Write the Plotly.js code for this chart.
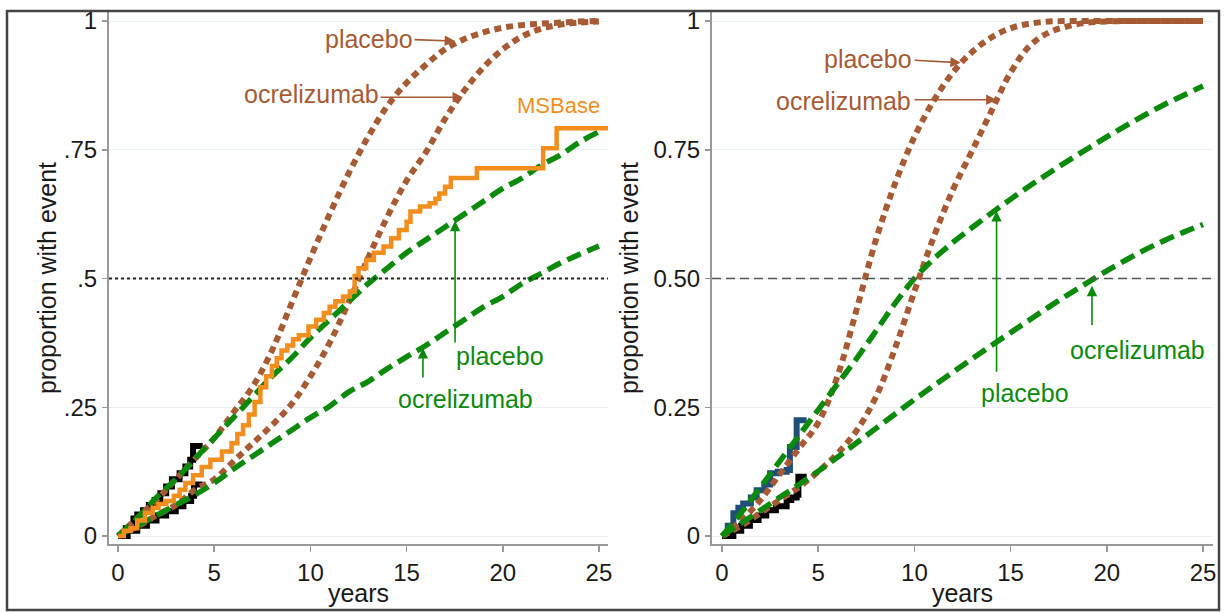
<!DOCTYPE html>
<html>
<head>
<meta charset="utf-8">
<script src="https://cdn.plot.ly/plotly-3.0.1.min.js"></script>
<style>html,body{margin:0;padding:0;background:#fff;}#chart{width:1225px;height:613px;}</style>
</head>
<body>
<div id="chart"></div>
<script>
// ---------- data ----------
const years = [0,1,2,3,4,5,6,7,8,9,10,11,12,13,14,15,16,17,18,19,20,21,22,23,24,25];

// left panel (MSBase comparison)
const leftBrownPlacebo = [0,0.035,0.07,0.11,0.15,0.19,0.24,0.29,0.36,0.45,0.54,0.625,0.705,0.775,0.835,0.88,0.915,0.945,0.965,0.978,0.987,0.992,0.995,0.997,0.999,1.0];
const leftBrownOcrelizumab = [0,0.018,0.04,0.06,0.09,0.11,0.145,0.18,0.215,0.255,0.31,0.375,0.455,0.54,0.62,0.69,0.745,0.81,0.865,0.91,0.945,0.97,0.985,0.993,0.997,0.999];
const leftGreenPlacebo = [0,0.035,0.075,0.11,0.15,0.19,0.23,0.27,0.31,0.345,0.385,0.42,0.455,0.49,0.52,0.55,0.575,0.60,0.625,0.65,0.675,0.695,0.72,0.74,0.765,0.785];
const leftGreenOcrelizumab = [0,0.02,0.04,0.06,0.08,0.103,0.13,0.155,0.18,0.205,0.23,0.252,0.28,0.30,0.325,0.348,0.37,0.395,0.42,0.445,0.465,0.49,0.51,0.53,0.547,0.563];

const msbaseYears = [0,0.3,0.65,1.0,1.4,1.8,2.1,2.5,2.9,3.2,3.5,3.9,4.35,4.8,5.4,5.9,6.2,6.5,6.8,7.1,7.4,7.7,8.0,8.25,8.5,8.8,9.1,9.4,9.9,10.3,10.7,11.0,11.3,11.7,12.05,12.3,12.5,12.9,13.3,13.8,14.2,14.6,15.0,15.2,15.7,16.2,16.5,16.7,17.0,17.3,18.65,22.1,22.8,25.6];
const msbaseValues = [0,0.01,0.015,0.03,0.045,0.055,0.062,0.068,0.078,0.09,0.103,0.118,0.134,0.148,0.164,0.18,0.198,0.215,0.236,0.26,0.289,0.31,0.33,0.345,0.36,0.37,0.382,0.39,0.407,0.42,0.433,0.445,0.456,0.465,0.475,0.505,0.52,0.536,0.55,0.562,0.578,0.594,0.61,0.63,0.64,0.646,0.655,0.665,0.678,0.695,0.714,0.753,0.792,0.792];

const leftKmPlaceboYears = [0,0.4,0.8,1.0,1.3,1.6,1.9,2.2,2.5,2.8,3.2,3.5,3.75,3.9,4.4];
const leftKmPlaceboValues = [0,0.015,0.034,0.042,0.05,0.06,0.07,0.083,0.096,0.11,0.122,0.135,0.148,0.175,0.175];
const leftKmOcrYears = [0,0.5,1.0,1.5,2.0,2.5,3.0,3.4,3.8,3.95,4.4];
const leftKmOcrValues = [0,0.01,0.02,0.03,0.04,0.048,0.058,0.068,0.078,0.1,0.1];

// right panel
const rightBrownPlacebo = [0,0.03,0.07,0.12,0.17,0.22,0.31,0.44,0.575,0.685,0.775,0.845,0.9,0.94,0.968,0.986,0.995,0.999,1,1,1,1,1,1,1,1];
const rightBrownOcrelizumab = [0,0.02,0.045,0.07,0.095,0.125,0.16,0.205,0.27,0.365,0.475,0.58,0.672,0.748,0.825,0.9,0.952,0.978,0.99,0.997,0.999,1,1,1,1,1];
const rightGreenPlacebo = [0,0.045,0.095,0.145,0.195,0.245,0.295,0.345,0.398,0.452,0.50,0.538,0.57,0.599,0.627,0.654,0.68,0.705,0.729,0.752,0.775,0.797,0.818,0.838,0.856,0.874];
const rightGreenOcrelizumab = [0,0.025,0.05,0.075,0.10,0.126,0.153,0.181,0.209,0.237,0.265,0.292,0.318,0.344,0.37,0.395,0.42,0.445,0.469,0.492,0.515,0.536,0.556,0.574,0.59,0.605];

const rightKmPlaceboYears = [0,0.3,0.59,0.85,1.1,1.5,1.8,2.2,2.5,2.9,3.36,3.53,3.88,4.4];
const rightKmPlaceboValues = [0,0.02,0.044,0.055,0.063,0.075,0.089,0.1,0.122,0.125,0.128,0.173,0.225,0.225];
const rightKmOcrYears = [0,0.59,1.0,1.45,1.9,2.3,2.8,3.36,3.6,3.88,3.97,4.4];
const rightKmOcrValues = [0,0.01,0.02,0.031,0.04,0.05,0.058,0.07,0.075,0.08,0.115,0.115];

const xTicks = [0,5,10,15,20,25];
const yTicks = [0,0.25,0.5,0.75,1];
const leftYTickText = ['0','.25','.5','.75','1'];
const rightYTickText = ['0','0.25','0.50','0.75','1'];

// ---------- styles ----------
const BROWN = '#a65b34', GREEN = '#0c8a0c', ORANGE = '#f28e1e', NAVY = '#1f4e79';
const brownLine = {color: BROWN, width: 6, dash: '7px,5px', shape: 'spline', smoothing: 1};
const greenLine = {color: GREEN, width: 5.5, dash: '15px,7px', shape: 'spline', smoothing: 1};

function tr(x, y, line, xa, ya, name) {
  return {x: x, y: y, mode: 'lines', line: line, xaxis: xa, yaxis: ya, name: name, hoverinfo: 'skip'};
}

const traces = [
  tr(leftKmPlaceboYears, leftKmPlaceboValues, {color: '#000', width: 6, shape: 'hv'}, 'x', 'y', 'KM placebo'),
  tr(leftKmOcrYears, leftKmOcrValues, {color: '#000', width: 6, shape: 'hv'}, 'x', 'y', 'KM ocrelizumab'),
  tr(years, leftBrownPlacebo, brownLine, 'x', 'y', 'placebo'),
  tr(years, leftBrownOcrelizumab, brownLine, 'x', 'y', 'ocrelizumab'),
  tr(years, leftGreenPlacebo, greenLine, 'x', 'y', 'placebo'),
  tr(years, leftGreenOcrelizumab, greenLine, 'x', 'y', 'ocrelizumab'),
  tr(msbaseYears, msbaseValues, {color: ORANGE, width: 4.5, shape: 'hv'}, 'x', 'y', 'MSBase'),

  tr(rightKmPlaceboYears, rightKmPlaceboValues, {color: NAVY, width: 6, shape: 'hv'}, 'x2', 'y2', 'KM placebo'),
  tr(rightKmOcrYears, rightKmOcrValues, {color: '#000', width: 6, shape: 'hv'}, 'x2', 'y2', 'KM ocrelizumab'),
  tr(years, rightBrownPlacebo, brownLine, 'x2', 'y2', 'placebo'),
  tr(years, rightBrownOcrelizumab, brownLine, 'x2', 'y2', 'ocrelizumab'),
  tr(years, rightGreenPlacebo, greenLine, 'x2', 'y2', 'placebo'),
  tr(years, rightGreenOcrelizumab, greenLine, 'x2', 'y2', 'ocrelizumab')
];

const FONT = 'Liberation Sans, Arial, sans-serif';
const tickFont = {family: FONT, size: 24, color: '#1a1a1a'};
const titleFont = {family: FONT, size: 25, color: '#1a1a1a'};

function xAxis(domain, range, anchor) {
  return {domain: domain, range: range, anchor: anchor, tickvals: xTicks, ticks: 'outside', ticklen: 6,
    tickwidth: 1.5, tickcolor: '#999', showline: true, linecolor: '#999', linewidth: 2, zeroline: false,
    showgrid: false, tickfont: tickFont, title: {text: 'years', font: titleFont, standoff: 0}, fixedrange: true};
}
function yAxis(domain, range, anchor, text, standoff) {
  return {domain: domain, range: range, anchor: anchor, tickvals: yTicks, ticktext: text, ticks: 'outside',
    ticklen: 5, tickwidth: 1.5, tickcolor: '#999', showline: true, linecolor: '#999', linewidth: 2,
    zeroline: false, showgrid: true, gridcolor: '#e8f0f2', gridwidth: 1, tickfont: tickFont,
    title: {text: 'proportion with event', font: titleFont, standoff: standoff}, fixedrange: true};
}

function label(text, x, y, color, xr, yr, size) {
  return {text: text, x: x, y: y, xref: xr, yref: yr, showarrow: false, xanchor: 'center', yanchor: 'middle',
    font: {family: FONT, size: size || 25, color: color}};
}
function arrow(x0, y0, x1, y1, color, xr, yr) {
  return {text: '', x: x1, y: y1, ax: x0, ay: y0, xref: xr, yref: yr, axref: xr, ayref: yr,
    showarrow: true, arrowhead: 2, arrowsize: 1.3, arrowwidth: 1.6, arrowcolor: color, standoff: 0, startstandoff: 0};
}

const annotations = [
  label('placebo', 13.02, 0.965, BROWN, 'x', 'y'),
  arrow(15.33, 0.964, 17.52, 0.961, BROWN, 'x', 'y'),
  label('ocrelizumab', 10.06, 0.858, BROWN, 'x', 'y'),
  arrow(13.57, 0.852, 17.93, 0.852, BROWN, 'x', 'y'),
  label('MSBase', 22.9, 0.836, ORANGE, 'x', 'y', 22),
  label('placebo', 19.83, 0.35, GREEN, 'x', 'y'),
  arrow(17.52, 0.373, 17.52, 0.612, GREEN, 'x', 'y'),
  label('ocrelizumab', 18.06, 0.266, GREEN, 'x', 'y'),
  arrow(15.85, 0.305, 15.85, 0.365, GREEN, 'x', 'y'),

  label('placebo', 7.59, 0.927, BROWN, 'x2', 'y2'),
  arrow(9.93, 0.924, 12.41, 0.919, BROWN, 'x2', 'y2'),
  label('ocrelizumab', 6.34, 0.845, BROWN, 'x2', 'y2'),
  arrow(9.93, 0.847, 14.27, 0.847, BROWN, 'x2', 'y2'),
  label('placebo', 15.75, 0.278, GREEN, 'x2', 'y2'),
  arrow(14.27, 0.316, 14.27, 0.631, GREEN, 'x2', 'y2'),
  label('ocrelizumab', 21.57, 0.361, GREEN, 'x2', 'y2'),
  arrow(19.23, 0.407, 19.23, 0.486, GREEN, 'x2', 'y2')
];

const shapes = [
  {type: 'line', xref: 'x domain', yref: 'y', x0: 0, x1: 1, y0: 0.5, y1: 0.5, layer: 'above',
   line: {color: '#222', width: 2, dash: 'dot'}},
  {type: 'line', xref: 'x2 domain', yref: 'y2', x0: 0, x1: 1, y0: 0.5, y1: 0.5, layer: 'above',
   line: {color: '#555', width: 1.6, dash: '9px,5px'}},
  {type: 'rect', xref: 'paper', yref: 'paper', x0: 7/1225, x1: 1219/1225, y0: 1 - 610/613, y1: 1 - 11/613,
   layer: 'above', line: {color: '#444', width: 2.5}, fillcolor: 'rgba(0,0,0,0)'}
];

const yDom = [1 - 544/613, 1 - 12/613];
const layout = {
  width: 1225, height: 613, margin: {l: 0, r: 0, t: 0, b: 0},
  paper_bgcolor: '#fff', plot_bgcolor: '#fff', showlegend: false,
  xaxis: xAxis([109/1225, 608/1225], [-0.47, 25.47], 'y'),
  yaxis: yAxis(yDom, [-0.0155, 1.0175], 'x', leftYTickText, 0),
  xaxis2: xAxis([712/1225, 1213/1225], [-0.52, 25.52], 'y2'),
  yaxis2: yAxis(yDom, [-0.0155, 1.0175], 'x2', rightYTickText, 8),
  annotations: annotations, shapes: shapes
};

Plotly.newPlot('chart', traces, layout, {displayModeBar: false, staticPlot: true});
</script>
</body>
</html>
